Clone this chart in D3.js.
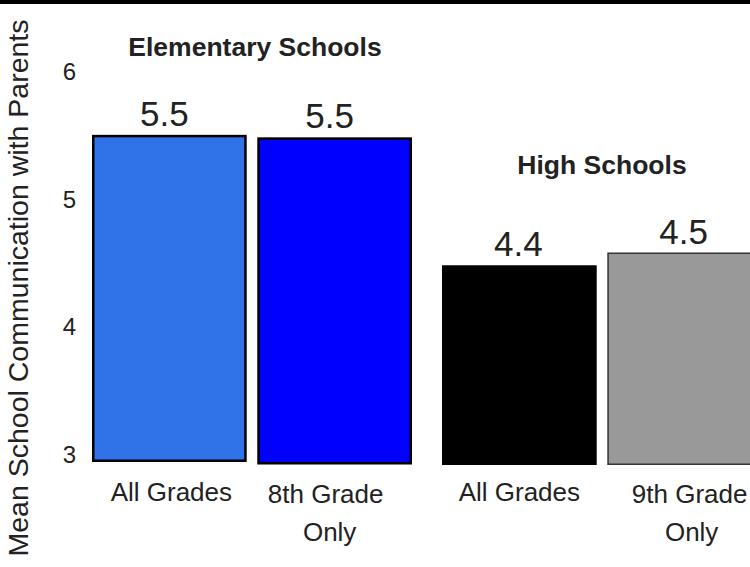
<!DOCTYPE html>
<html>
<head>
<meta charset="utf-8">
<script src="https://cdn.jsdelivr.net/npm/d3@7"></script>
<style>
  html, body { margin: 0; padding: 0; background: #fff; }
  svg { display: block; font-family: "Liberation Sans", Arial, Helvetica, sans-serif; }
</style>
</head>
<body>
<svg id="chart" width="750" height="567"></svg>
<script>
// Mean school communication with parents, by school level and grade subset
const panelTitles = ["Elementary Schools", "High Schools"];
const categories = [["All Grades", "8th Grade Only"], ["All Grades", "9th Grade Only"]];
const values = [[5.5, 5.5], [4.4, 4.5]];
const valueLabels = [["5.5", "5.5"], ["4.4", "4.5"]];
const yTicks = [3, 4, 5, 6];
const yTitle = "Mean School Communication with Parents";

// styling of each bar, per panel
const fills = [["#3072E8", "#0000FF"], ["#000000", "#999999"]];
const strokes = [["#000000", "#000000"], ["none", "#333333"]];
const strokeWidths = [[2.5, 2.5], [0, 1.5]];

const W = 750, H = 567;
const svg = d3.select("#chart");
const textColor = "#222";

// top rule
svg.append("rect").attr("x", 0).attr("y", 0).attr("width", W).attr("height", 4).attr("fill", "#000");

// each panel has its own frame; catDx shifts each wrapped label line horizontally
const panels = [
  { x0: 92, x1: 412, yRange: [454, 71], base: 462, nudge: [0, 2.5], titleX: 255, titleY: 56,
    valDx: -5, catDx: [[2], [-9, -5]] },
  { x0: 442, x1: 762, yRange: [444, 61], base: 465, nudge: [0, 0], titleX: 602, titleY: 174,
    valDx: -1, catDx: [[0], [5, 7]] }
];

const yL = d3.scaleLinear().domain([3, 6]).range(panels[0].yRange);

// y axis (left panel only)
const yAxis = d3.axisLeft(yL).tickValues(yTicks).tickSize(0).tickPadding(0).tickFormat(d3.format("d"));
const gAxis = svg.append("g").attr("transform", "translate(76,0)").call(yAxis);
gAxis.select(".domain").remove();
gAxis.selectAll("text")
  .attr("font-size", 24)
  .attr("fill", textColor)
  .attr("font-family", "Liberation Sans, Arial, sans-serif")
  .attr("dy", "0.36em");

// y axis title
svg.append("text")
  .attr("transform", "translate(28,288) rotate(-90)")
  .attr("text-anchor", "middle")
  .attr("font-size", 28.5)
  .attr("fill", textColor)
  .text(yTitle);

panels.forEach((p, pi) => {
  const y = d3.scaleLinear().domain([3, 6]).range(p.yRange);
  const x = d3.scaleBand().domain(categories[pi]).range([p.x0, p.x1]).paddingInner(0.064);
  const g = svg.append("g");

  const rows = categories[pi].map((c, i) => ({
    cat: c, v: values[pi][i], label: valueLabels[pi][i], i,
    fill: fills[pi][i], stroke: strokes[pi][i], sw: strokeWidths[pi][i], nudge: p.nudge[i]
  }));

  g.selectAll("rect.bar").data(rows).join("rect")
    .attr("class", "bar")
    .attr("x", d => x(d.cat) + d.sw / 2)
    .attr("width", d => x.bandwidth() - d.sw)
    .attr("y", d => y(d.v) + d.sw / 2 + d.nudge)
    .attr("height", d => p.base - y(d.v) - d.sw)
    .attr("fill", d => d.fill)
    .attr("stroke", d => d.stroke)
    .attr("stroke-width", d => d.sw);

  // value labels above bars
  g.selectAll("text.val").data(rows).join("text")
    .attr("class", "val")
    .attr("x", d => x(d.cat) + x.bandwidth() / 2 + p.valDx)
    .attr("y", d => y(d.v) + d.nudge - 9)
    .attr("text-anchor", "middle")
    .attr("font-size", 35)
    .attr("fill", textColor)
    .text(d => d.label);

  // category labels, wrapped after "Grade"
  g.selectAll("text.cat").data(rows).join("text")
    .attr("class", "cat")
    .attr("y", 501)
    .attr("text-anchor", "middle")
    .attr("font-size", 26)
    .attr("fill", textColor)
    .each(function(d) {
      const parts = d.cat.endsWith(" Only") ? [d.cat.replace(" Only", ""), "Only"] : [d.cat];
      const t = d3.select(this);
      const cx = x(d.cat) + x.bandwidth() / 2;
      parts.forEach((s, k) => {
        t.append("tspan")
          .attr("x", cx + p.catDx[d.i][k])
          .attr("dy", k === 0 ? (parts.length > 1 ? 2 : 0) : 38)
          .text(s);
      });
    });

  // panel title
  svg.append("text")
    .attr("x", p.titleX)
    .attr("y", p.titleY)
    .attr("text-anchor", "middle")
    .attr("font-size", 26.5)
    .attr("font-weight", "bold")
    .attr("fill", textColor)
    .text(panelTitles[pi]);
});
</script>
</body>
</html>
